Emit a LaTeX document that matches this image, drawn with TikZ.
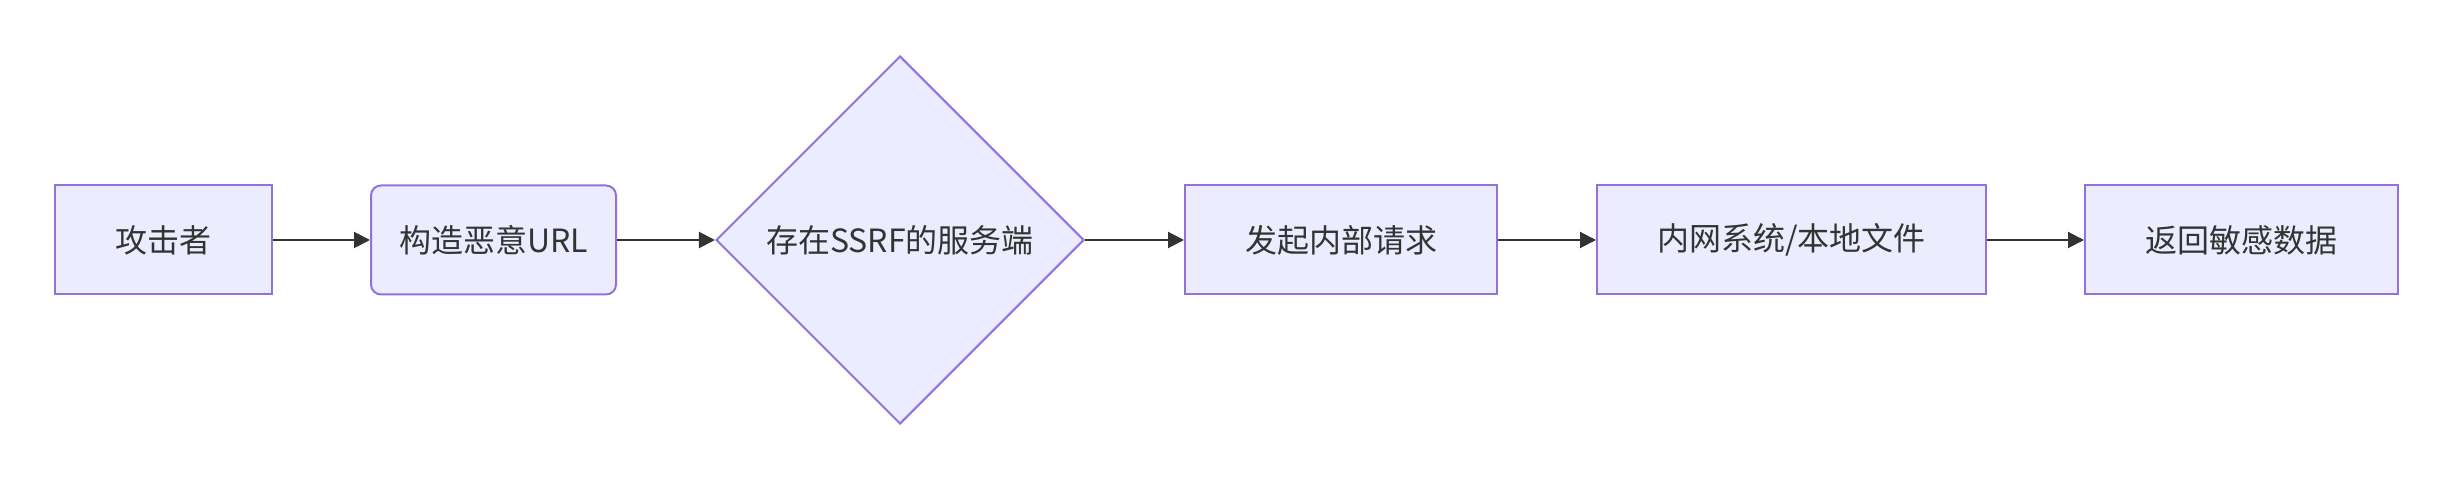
\documentclass[tikz,border=0pt]{standalone}
\usepackage{fontspec}
\setmainfont{Noto Sans CJK SC}
\usetikzlibrary{shapes.geometric,arrows.meta}

\definecolor{boxfill}{HTML}{ECECFF}
\definecolor{boxline}{HTML}{9370DB}
\definecolor{textgray}{HTML}{333333}

\tikzset{
    procbox/.style={draw=boxline, fill=boxfill, line width=1pt, minimum height=54.5pt,
        inner sep=0pt, text=textgray, font=\fontsize{16}{19}\selectfont},
    decision/.style={procbox, diamond, aspect=1, minimum width=184pt, minimum height=184pt},
    flow/.style={-{Triangle[length=8pt,width=8pt]}, line width=1pt, draw=textgray, fill=textgray}
}

\begin{document}
\begin{tikzpicture}[x=0.5pt,y=-0.5pt]
            \useasboundingbox (0,0) rectangle (2453,480);

            \node[procbox, minimum width=108.5pt] (attacker) at (163.5,240) {攻击者};
            \node[procbox, minimum width=122.5pt, rounded corners=5pt] (craft) at (493.5,240) {构造恶意URL};
            \node[decision] (server) at (900,240) {存在SSRF的服务端};
            \node[procbox, minimum width=156pt] (request) at (1341,240) {发起内部请求};
            \node[procbox, minimum width=194.5pt] (internal) at (1791.5,240) {内网系统/本地文件};
            \node[procbox, minimum width=156.5pt] (leak) at (2241.5,240) {返回敏感数据};

            \draw[flow] (attacker) -- (craft);
            \draw[flow] (craft) -- (server);
            \draw[flow] (server) -- (request);
            \draw[flow] (request) -- (internal);
            \draw[flow] (internal) -- (leak);
        \end{tikzpicture}
\end{document}
